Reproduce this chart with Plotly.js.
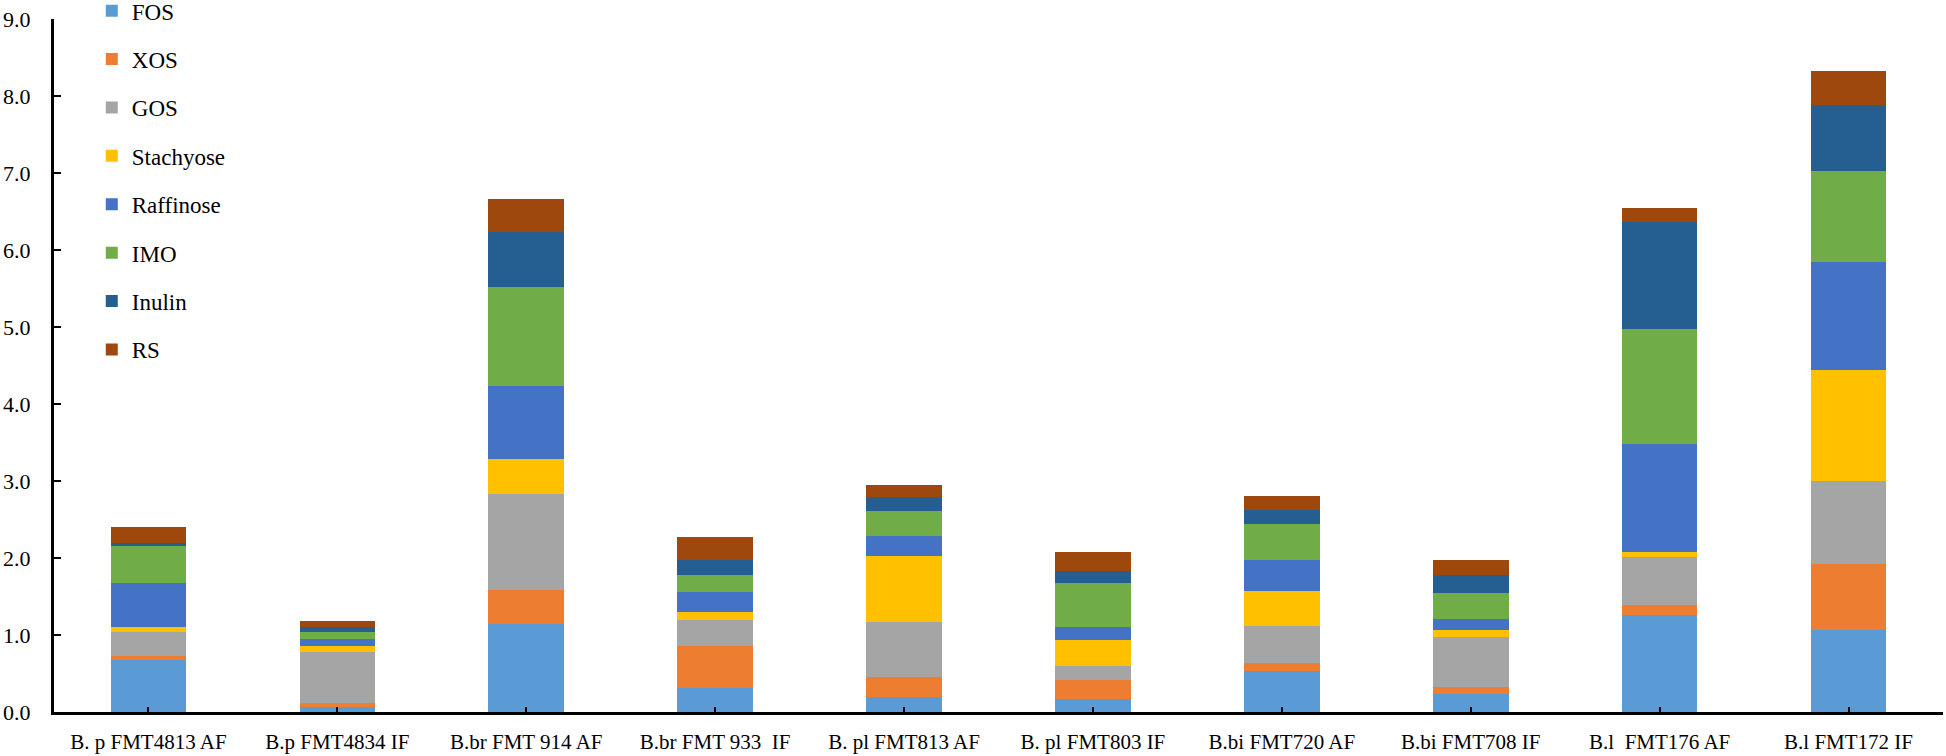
<!DOCTYPE html>
<html>
<head>
<meta charset="utf-8">
<script src="https://cdn.plot.ly/plotly-3.0.1.min.js"></script>
<style>html,body{margin:0;padding:0;background:#fff;}#chart{width:1946px;height:756px;}</style>
</head>
<body>
<div id="chart"></div>
<script>
var categories = ["B. p FMT4813 AF", "B.p FMT4834 IF", "B.br FMT 914 AF", "B.br FMT 933  IF", "B. pl FMT813 AF",
                  "B. pl FMT803 IF", "B.bi FMT720 AF", "B.bi FMT708 IF", "B.l  FMT176 AF", "B.l FMT172 IF"];
var seriesNames = ["FOS", "XOS", "GOS", "Stachyose", "Raffinose", "IMO", "Inulin", "RS"];
var FOS       = [0.68, 0.06, 1.14, 0.31, 0.20, 0.17, 0.53, 0.23, 1.26, 1.06];
var XOS       = [0.05, 0.06, 0.44, 0.55, 0.26, 0.24, 0.11, 0.09, 0.13, 0.86];
var GOS       = [0.31, 0.66, 1.25, 0.33, 0.71, 0.19, 0.48, 0.65, 0.62, 1.08];
var Stachyose = [0.06, 0.08, 0.45, 0.11, 0.85, 0.33, 0.45, 0.10, 0.07, 1.44];
var Raffinose = [0.58, 0.09, 0.95, 0.26, 0.27, 0.18, 0.40, 0.14, 1.40, 1.40];
var IMO       = [0.47, 0.09, 1.29, 0.22, 0.32, 0.56, 0.47, 0.34, 1.50, 1.18];
var Inulin    = [0.04, 0.06, 0.72, 0.20, 0.18, 0.16, 0.18, 0.23, 1.39, 0.86];
var RS        = [0.21, 0.08, 0.42, 0.29, 0.16, 0.25, 0.18, 0.19, 0.18, 0.44];
var yTickVals = [0, 1, 2, 3, 4, 5, 6, 7, 8, 9];
var yTickText = ["0.0", "1.0", "2.0", "3.0", "4.0", "5.0", "6.0", "7.0", "8.0", "9.0"];

var seriesValues = [FOS, XOS, GOS, Stachyose, Raffinose, IMO, Inulin, RS];
var colors = ["#5B9BD5", "#ED7D31", "#A5A5A5", "#FFC000", "#4472C4", "#70AD47", "#255E91", "#9E480E"];

var traces = seriesNames.map(function (name, i) {
  return {
    type: "bar",
    name: name,
    legendgroup: name,
    x: categories,
    y: seriesValues[i],
    marker: { color: colors[i], line: { width: 0 } },
    hoverinfo: "x+y+name"
  };
});

var font = "Liberation Serif, Times New Roman, serif";
var layout = {
  width: 1946,
  height: 756,
  margin: { l: 54, r: 3, t: 19, b: 44, autoexpand: false },
  paper_bgcolor: "#ffffff",
  plot_bgcolor: "#ffffff",
  barmode: "stack",
  bargap: 0.6,
  font: { family: font, color: "#000000", size: 20 },
  showlegend: true,
  legend: {
    x: 0.02, xanchor: "left",
    y: 1.043, yanchor: "top",
    traceorder: "grouped",
    tracegroupgap: 15.5,
    maxheight: 740,
    font: { family: font, size: 23, color: "#000000" },
    bgcolor: "rgba(0,0,0,0)",
    borderwidth: 0
  },
  xaxis: {
    type: "category",
    showline: true, linecolor: "#000000", linewidth: 3,
    ticks: "inside", ticklen: 5, tickwidth: 2, tickcolor: "#000000",
    showgrid: false, zeroline: false,
    tickfont: { family: font, size: 21, color: "#000000" },
    ticklabelstandoff: 9
  },
  yaxis: {
    range: [0, 9],
    tickvals: yTickVals, ticktext: yTickText,
    showline: true, linecolor: "#000000", linewidth: 3,
    ticks: "inside", ticklen: 7, tickwidth: 2, tickcolor: "#000000",
    showgrid: false, zeroline: false,
    tickfont: { family: font, size: 22, color: "#000000" },
    ticklabelstandoff: 16
  }
};

Plotly.newPlot("chart", traces, layout, { displayModeBar: false, staticPlot: false });
</script>
</body>
</html>
